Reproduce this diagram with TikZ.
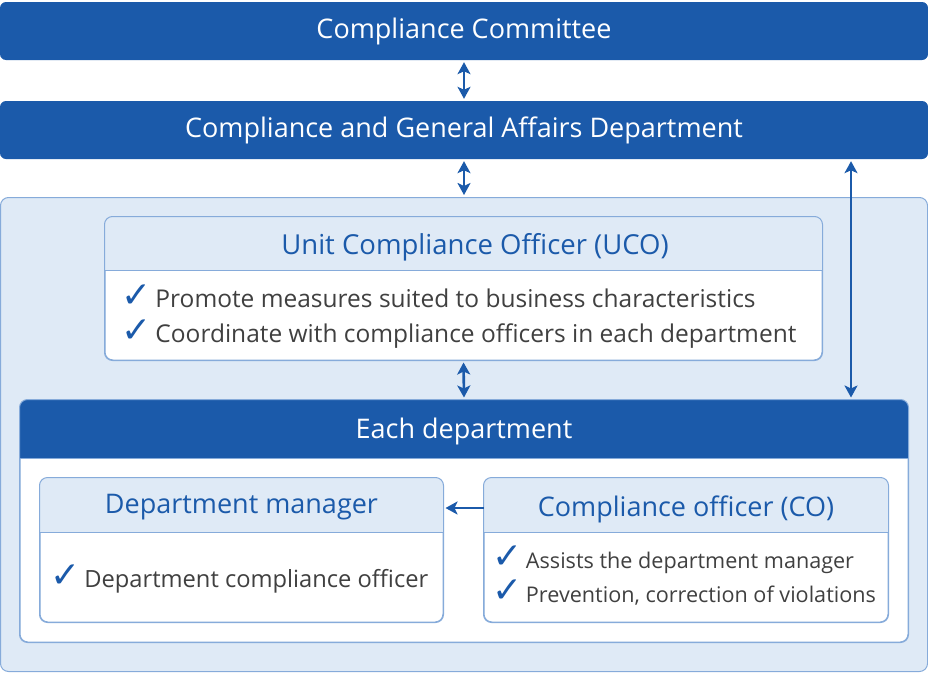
\documentclass[tikz,border=0pt]{standalone}
\usepackage{fontspec}
\setmainfont{Open Sans}
\newfontfamily\symfont{DejaVu Sans}
\usetikzlibrary{arrows.meta}
\definecolor{deepblue}{HTML}{1B5AAA}
\definecolor{paleblue}{HTML}{DFEAF6}
\definecolor{edgeblue}{HTML}{86ABDA}
\definecolor{bodygray}{HTML}{404040}
\newcommand{\tick}{{\color{deepblue}\symfont\bfseries\fontsize{36}{35}\selectfont ✓}}
\tikzset{
  head/.tip={Stealth[length=12pt,width=13pt,inset=3pt]},
  bar/.style={fill=deepblue, rounded corners=6pt, text=white, minimum width=928pt, minimum height=58pt, inner sep=0pt, font=\fontsize{27}{32}\selectfont},
  zone/.style={fill=paleblue, draw=edgeblue, line width=1pt, rounded corners=8pt, inner sep=0pt},
  panel/.style={fill=white, draw=edgeblue, line width=1pt, rounded corners=8pt, inner sep=0pt},
  title/.style={text=deepblue, font=\fontsize{27}{32}\selectfont},
  body/.style={text=bodygray, align=left, anchor=west, inner sep=0pt, font=\fontsize{24.5}{35}\selectfont},
  link/.style={deepblue, line width=2.6pt, shorten <=2pt, shorten >=2pt},
  arr/.style={link, {head}-{head}}
}
\begin{document}
\begin{tikzpicture}[x=1pt, y=-1pt]
  \useasboundingbox (0,0) rectangle (928,672);
  \node[bar] (cc) at (464,31) {Compliance Committee};
  \node[bar] (cga) at (464,130) {Compliance and General Affairs Department};
  \node[zone, minimum width=927pt, minimum height=474pt] (zone) at (464,434.5) {};
  % boxes with a header strip
  \node[panel, minimum width=717pt, minimum height=143pt] (uco) at (463.5,288.5) {};
  \node[panel, minimum width=888pt, minimum height=242pt] (dept) at (464,521) {};
  \node[panel, minimum width=403pt, minimum height=144pt] (mgr) at (241.5,550) {};
  \node[panel, minimum width=404pt, minimum height=144pt] (co) at (686,550) {};
  \foreach \p/\h/\c in {uco/270/paleblue, dept/458/deepblue, mgr/532/paleblue, co/532/paleblue} {
    \begin{scope}
      \clip[rounded corners=8pt] (\p.north west) rectangle (\p.south east);
      \fill[\c] (\p.north west) rectangle (\p.east |- 0,\h);
    \end{scope}
    \draw[edgeblue, line width=1pt] (\p.west |- 0,\h) -- (\p.east |- 0,\h);
    \draw[edgeblue, line width=1pt, rounded corners=8pt] (\p.north west) rectangle (\p.south east);
  }
  \node[title, font=\fontsize{27.5}{32}\selectfont] (ucoT) at (475,247) {Unit Compliance Officer (UCO)};
  \node[body] (ucoL) at (121,317) {\tick\,Promote measures suited to business characteristics\\ \tick\,Coordinate with compliance officers in each department};
  \node[title, text=white] (deptT) at (464,431) {Each department};
  \node[title] (mgrT) at (241.5,507) {Department manager};
  \node[body, font=\fontsize{23.7}{35}\selectfont] (mgrL) at (50,579) {\tick\,Department compliance officer};
  \node[title] (coT) at (686,509) {Compliance officer (CO)};
  \node[body, font=\fontsize{21.6}{34}\selectfont] (coL) at (492,576) {\tick\,Assists the department manager\\ \tick\,Prevention, correction of violations};
  % connectors
  \coordinate (rt) at (851,0);
  \coordinate (lk) at (0,508);
  \draw[arr] (cc) -- (cga);
  \draw[arr] (cga) -- (zone);
  \draw[arr] (uco.south) -- (dept.north);
  \draw[arr] (cga.south -| rt) -- (dept.north -| rt);
  \draw[link, -{head}, shorten <=0pt] (co.west |- lk) -- (mgr.east |- lk);
\end{tikzpicture}
\end{document}
